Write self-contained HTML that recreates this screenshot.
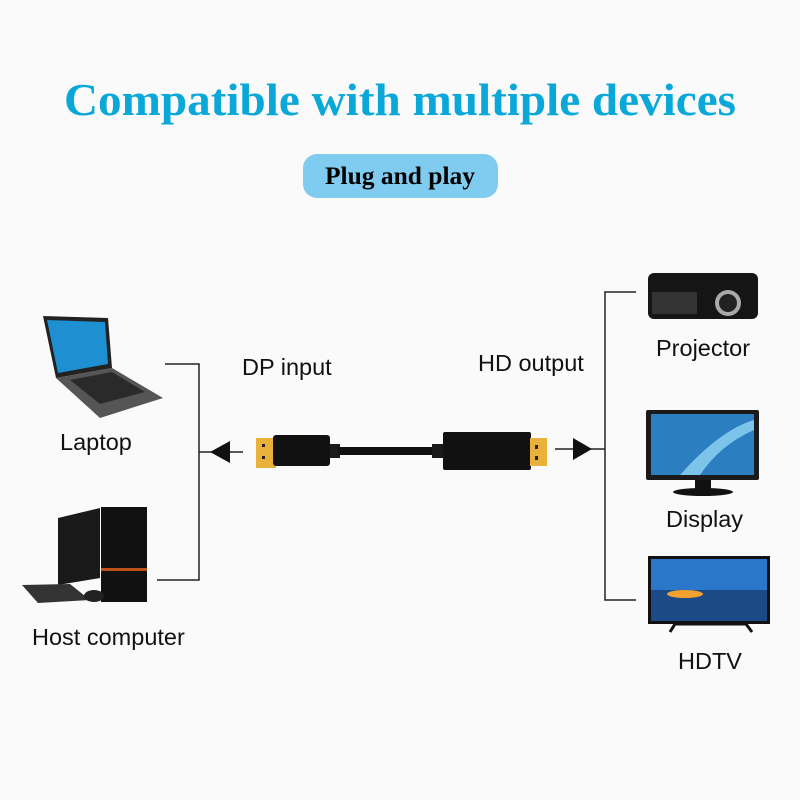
<!DOCTYPE html>
<html><head><meta charset="utf-8"><style>
html,body{margin:0;padding:0;background:#fafafa;}
svg{display:block;}
</style></head><body>
<svg width="800" height="800" viewBox="0 0 800 800" xmlns="http://www.w3.org/2000/svg">
<rect width="800" height="800" fill="#fafafa"/>
<text x="400" y="115" text-anchor="middle" font-family="Liberation Serif, serif" font-weight="bold" font-size="46" fill="#0aa8d8" textLength="672" lengthAdjust="spacingAndGlyphs">Compatible with multiple devices</text>
<rect x="303" y="154" width="195" height="44" rx="14" fill="#80ccf0"/>
<text x="400" y="184" text-anchor="middle" font-family="Liberation Serif, serif" font-weight="bold" font-size="25" fill="#000" textLength="150" lengthAdjust="spacingAndGlyphs">Plug and play</text>

<g font-family="Liberation Sans, sans-serif" font-size="23.5" fill="#111">
<text x="242" y="375">DP input</text>
<text x="478" y="371">HD output</text>
<text x="60" y="450">Laptop</text>
<text x="32" y="645">Host computer</text>
<text x="656" y="356">Projector</text>
<text x="666" y="527">Display</text>
<text x="678" y="669">HDTV</text>
</g>

<g stroke="#222" stroke-width="1.5" fill="none">
<polyline points="165,364 199,364 199,580 157,580"/>
<line x1="199" y1="452" x2="243" y2="452"/>
<polyline points="636,292 605,292 605,600 636,600"/>
<line x1="555" y1="449" x2="605" y2="449"/>
</g>
<polygon points="210,452 230,441 230,463" fill="#111"/>
<polygon points="592,449 573,438 573,460" fill="#111"/>

<rect x="256" y="438" width="20" height="30" fill="#e8b23a"/>
<rect x="262" y="444" width="3" height="3" fill="#222"/><rect x="262" y="456" width="3" height="3" fill="#222"/>
<rect x="273" y="435" width="57" height="31" rx="3" fill="#111"/>
<rect x="330" y="444" width="10" height="14" fill="#1a1a1a"/>
<rect x="338" y="447" width="100" height="8" fill="#111"/>
<rect x="432" y="444" width="12" height="14" fill="#1a1a1a"/>
<rect x="443" y="432" width="88" height="38" rx="2" fill="#111"/>
<rect x="530" y="438" width="17" height="28" fill="#e8b23a"/>
<rect x="535" y="445" width="3" height="4" fill="#222"/><rect x="535" y="456" width="3" height="4" fill="#222"/>

<polygon points="43,316 108,318 112,368 56,378" fill="#222"/>
<polygon points="47,320 105,322 108,364 58,373" fill="#1e8fd0"/>
<polygon points="56,378 112,368 163,398 100,418" fill="#555"/>
<polygon points="70,380 112,372 145,392 100,404" fill="#2a2a2a"/>

<polygon points="58,518 100,508 100,578 58,585" fill="#1a1a1a"/>
<rect x="101" y="507" width="46" height="95" fill="#111"/>
<rect x="101" y="568" width="46" height="3" fill="#c0501a"/>
<polygon points="22,585 70,584 90,600 38,603" fill="#333"/>
<ellipse cx="94" cy="596" rx="10" ry="6" fill="#222"/>

<rect x="648" y="273" width="110" height="46" rx="6" fill="#151515"/>
<circle cx="728" cy="303" r="13" fill="#aaa"/><circle cx="728" cy="303" r="9" fill="#222"/>
<rect x="652" y="292" width="45" height="22" fill="#333"/>

<rect x="646" y="410" width="113" height="70" rx="2" fill="#1a1a1a"/>
<rect x="651" y="414" width="103" height="61" fill="#2b7fc0"/>
<path d="M680 475 Q720 430 754 420 L754 430 Q720 445 700 475Z" fill="#7cc4ea"/>
<rect x="695" y="480" width="16" height="10" fill="#111"/>
<ellipse cx="703" cy="492" rx="30" ry="4" fill="#111"/>

<rect x="648" y="556" width="122" height="68" fill="#111"/>
<rect x="651" y="559" width="116" height="62" fill="#2a76c8"/>
<rect x="651" y="590" width="116" height="31" fill="#1c4a86"/>
<ellipse cx="685" cy="594" rx="18" ry="4" fill="#f2a030"/>
<polyline points="670,632 675,624 746,624 752,632" stroke="#111" stroke-width="3" fill="none"/>
</svg>
</body></html>
